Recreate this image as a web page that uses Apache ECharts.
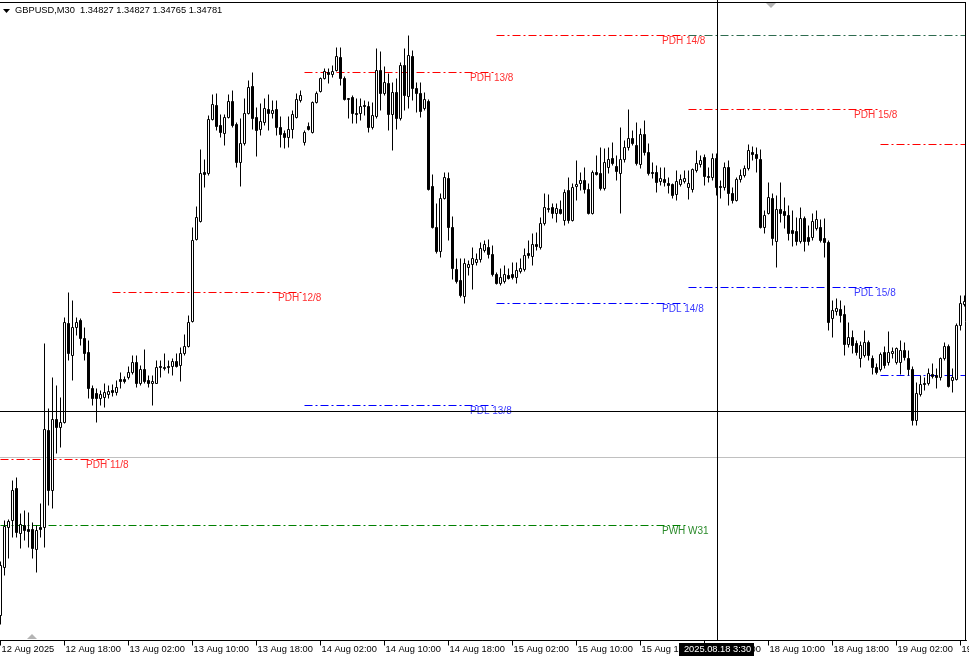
<!DOCTYPE html>
<html><head><meta charset="utf-8">
<script src="https://cdn.jsdelivr.net/npm/echarts/dist/echarts.min.js"></script>
<style>html,body{margin:0;padding:0;background:#fff;overflow:hidden}#c{width:969px;height:660px}</style>
</head><body><div id="c"></div>
<script>
// ---- DATA: GBPUSD M30, 12 Aug 2025 10:00 -> 19 Aug 2025 10:30 ----
const open = [
1.33425,1.33665,1.33865,1.33900,1.34060,1.33835,1.33875,1.33855,1.33855,1.33755,
1.33865,1.33865,1.34350,1.34050,1.34405,1.34365,1.34390,1.34885,1.34725,1.34865,
1.34900,1.34810,1.34740,1.34560,1.34535,1.34510,1.34515,1.34530,1.34550,1.34540,
1.34605,1.34605,1.34615,1.34640,1.34690,1.34585,1.34655,1.34600,1.34585,1.34585,
1.34670,1.34665,1.34670,1.34670,1.34695,1.34675,1.34735,1.34770,1.34895,1.35305,
1.35395,1.35640,1.35635,1.35905,1.35975,1.35875,1.35835,1.35915,1.35995,1.35880,
1.35690,1.35785,1.35935,1.36070,1.35915,1.35855,1.35890,1.35955,1.35935,1.35955,
1.35865,1.35835,1.35815,1.35855,1.35915,1.36000,1.35790,1.35870,1.35840,1.35990,
1.36045,1.36110,1.36140,1.36130,1.36150,1.36215,1.36110,1.36005,1.36015,1.35935,
1.35935,1.35975,1.35970,1.35865,1.35920,1.36150,1.36035,1.36085,1.35930,1.36040,
1.35910,1.36175,1.36020,1.36220,1.36060,1.36035,1.35960,1.35995,1.35570,1.35365,
1.35245,1.35510,1.35610,1.35365,1.35155,1.35100,1.35020,1.35165,1.35180,1.35190,
1.35205,1.35250,1.35265,1.35230,1.35130,1.35085,1.35095,1.35125,1.35130,1.35115,
1.35145,1.35155,1.35235,1.35220,1.35280,1.35265,1.35385,1.35455,1.35465,1.35435,
1.35455,1.35400,1.35550,1.35400,1.35570,1.35585,1.35600,1.35555,1.35435,1.35640,
1.35635,1.35560,1.35665,1.35710,1.35670,1.35635,1.35705,1.35765,1.35810,1.35775,
1.35680,1.35830,1.35740,1.35640,1.35640,1.35595,1.35605,1.35585,1.35580,1.35530,
1.35580,1.35595,1.35565,1.35555,1.35650,1.35680,1.35715,1.35620,1.35615,1.35710,
1.35570,1.35565,1.35665,1.35535,1.35500,1.35605,1.35625,1.35660,1.35740,1.35730,
1.35705,1.35365,1.35435,1.35510,1.35295,1.35455,1.35445,1.35425,1.35350,1.35345,
1.35295,1.35410,1.35315,1.35315,1.35360,1.35365,1.35310,1.35290,1.34910,1.34945,
1.34955,1.34930,1.34780,1.34815,1.34785,1.34710,1.34725,1.34790,1.34710,1.34665,
1.34655,1.34740,1.34690,1.34735,1.34690,1.34690,1.34750,1.34710,1.34655,1.34400,
1.34530,1.34585,1.34585,1.34630,1.34625,1.34615,1.34710,1.34770,1.34600,1.34605,
1.34875,1.34980];
const high = [
1.33695,1.33900,1.33905,1.34100,1.34115,1.33935,1.33950,1.33940,1.33890,1.33875,
1.33985,1.34785,1.34460,1.34615,1.34575,1.34515,1.34915,1.35040,1.35000,1.34915,
1.34910,1.34865,1.34800,1.34575,1.34560,1.34550,1.34585,1.34575,1.34580,1.34600,
1.34640,1.34620,1.34670,1.34725,1.34725,1.34675,1.34755,1.34625,1.34625,1.34700,
1.34700,1.34735,1.34700,1.34710,1.34735,1.34765,1.34830,1.34925,1.35365,1.35470,
1.35755,1.35705,1.35925,1.36030,1.36035,1.35930,1.35930,1.36030,1.36050,1.35890,
1.35910,1.36010,1.36100,1.36140,1.35965,1.35985,1.36010,1.36030,1.36000,1.36000,
1.35920,1.35850,1.35920,1.35950,1.36035,1.36050,1.35850,1.35890,1.35995,1.36045,
1.36115,1.36160,1.36160,1.36175,1.36265,1.36265,1.36120,1.36010,1.36025,1.36010,
1.36010,1.36000,1.35995,1.35990,1.36260,1.36245,1.36170,1.36135,1.36090,1.36110,
1.36190,1.36260,1.36325,1.36250,1.36090,1.36090,1.36040,1.36005,1.35630,1.35485,
1.35535,1.35640,1.35640,1.35420,1.35210,1.35210,1.35210,1.35200,1.35265,1.35235,
1.35290,1.35300,1.35305,1.35275,1.35140,1.35160,1.35175,1.35160,1.35190,1.35190,
1.35210,1.35260,1.35300,1.35335,1.35340,1.35415,1.35535,1.35530,1.35485,1.35485,
1.35500,1.35555,1.35615,1.35585,1.35700,1.35640,1.35665,1.35585,1.35650,1.35725,
1.35765,1.35760,1.35765,1.35790,1.35725,1.35865,1.35800,1.35955,1.35850,1.35890,
1.35860,1.35900,1.35785,1.35690,1.35675,1.35665,1.35665,1.35615,1.35585,1.35650,
1.35630,1.35650,1.35650,1.35660,1.35750,1.35725,1.35730,1.35665,1.35735,1.35735,
1.35600,1.35690,1.35700,1.35565,1.35615,1.35655,1.35675,1.35780,1.35770,1.35765,
1.35755,1.35450,1.35590,1.35535,1.35525,1.35590,1.35515,1.35475,1.35450,1.35415,
1.35465,1.35420,1.35375,1.35435,1.35450,1.35405,1.35410,1.35300,1.35000,1.35010,
1.35000,1.34975,1.34890,1.34850,1.34800,1.34795,1.34850,1.34800,1.34725,1.34685,
1.34740,1.34770,1.34845,1.34765,1.34765,1.34800,1.34790,1.34750,1.34670,1.34590,
1.34625,1.34615,1.34660,1.34685,1.34660,1.34715,1.34790,1.34780,1.34660,1.34885,
1.35025,1.35025];
const low = [
1.33380,1.33625,1.33710,1.33815,1.33815,1.33760,1.33800,1.33765,1.33710,1.33640,
1.33815,1.33765,1.33975,1.33960,1.34235,1.34265,1.34385,1.34700,1.34600,1.34825,
1.34775,1.34700,1.34510,1.34475,1.34390,1.34475,1.34465,1.34510,1.34520,1.34525,
1.34560,1.34585,1.34605,1.34630,1.34565,1.34575,1.34585,1.34565,1.34475,1.34585,
1.34615,1.34650,1.34635,1.34625,1.34665,1.34595,1.34725,1.34765,1.34890,1.35300,
1.35390,1.35565,1.35625,1.35900,1.35850,1.35815,1.35775,1.35910,1.35865,1.35665,
1.35570,1.35775,1.35930,1.35855,1.35720,1.35825,1.35875,1.35850,1.35910,1.35825,
1.35765,1.35760,1.35765,1.35810,1.35910,1.35990,1.35775,1.35850,1.35835,1.35985,
1.36040,1.36105,1.36085,1.36115,1.36145,1.36075,1.36000,1.35910,1.35885,1.35885,
1.35900,1.35925,1.35840,1.35855,1.35910,1.35950,1.36025,1.35850,1.35750,1.35855,
1.35900,1.35950,1.35960,1.36000,1.35940,1.35915,1.35950,1.35550,1.35360,1.35235,
1.35215,1.35505,1.35300,1.35105,1.35085,1.35015,1.34985,1.35125,1.35055,1.35175,
1.35190,1.35240,1.35210,1.35120,1.35080,1.35075,1.35085,1.35105,1.35105,1.35085,
1.35135,1.35145,1.35210,1.35175,1.35250,1.35255,1.35375,1.35440,1.35410,1.35390,
1.35430,1.35375,1.35385,1.35395,1.35500,1.35550,1.35535,1.35430,1.35430,1.35625,
1.35550,1.35550,1.35635,1.35675,1.35600,1.35435,1.35690,1.35750,1.35775,1.35675,
1.35660,1.35725,1.35625,1.35610,1.35540,1.35575,1.35570,1.35535,1.35510,1.35500,
1.35570,1.35585,1.35505,1.35540,1.35640,1.35665,1.35575,1.35590,1.35600,1.35525,
1.35510,1.35550,1.35475,1.35485,1.35495,1.35590,1.35615,1.35650,1.35700,1.35640,
1.35360,1.35335,1.35430,1.35275,1.35165,1.35390,1.35360,1.35300,1.35270,1.35275,
1.35285,1.35245,1.35275,1.35300,1.35350,1.35290,1.35215,1.34850,1.34815,1.34925,
1.34890,1.34725,1.34765,1.34735,1.34725,1.34665,1.34715,1.34700,1.34630,1.34630,
1.34645,1.34660,1.34675,1.34710,1.34680,1.34630,1.34700,1.34625,1.34375,1.34375,
1.34520,1.34550,1.34575,1.34610,1.34560,1.34600,1.34700,1.34565,1.34540,1.34600,
1.34850,1.34970];
const close = [
1.33675,1.33870,1.33895,1.34050,1.33840,1.33880,1.33850,1.33845,1.33760,1.33850,
1.33855,1.34355,1.34050,1.34405,1.34365,1.34390,1.34890,1.34735,1.34865,1.34890,
1.34810,1.34735,1.34560,1.34510,1.34510,1.34530,1.34540,1.34545,1.34540,1.34565,
1.34595,1.34595,1.34640,1.34690,1.34585,1.34655,1.34595,1.34585,1.34595,1.34665,
1.34665,1.34660,1.34665,1.34695,1.34670,1.34735,1.34770,1.34890,1.35300,1.35415,
1.35635,1.35630,1.35905,1.35980,1.35870,1.35840,1.35915,1.35995,1.35875,1.35690,
1.35785,1.35935,1.36065,1.35910,1.35850,1.35895,1.35960,1.35935,1.35950,1.35865,
1.35830,1.35815,1.35855,1.35930,1.36005,1.36025,1.35840,1.35855,1.35990,1.36035,
1.36110,1.36145,1.36130,1.36145,1.36220,1.36110,1.36005,1.36010,1.35935,1.35930,
1.35970,1.35970,1.35865,1.35925,1.36150,1.36035,1.36090,1.35930,1.36040,1.35910,
1.36175,1.36025,1.36225,1.36060,1.36035,1.35945,1.36005,1.35555,1.35365,1.35245,
1.35510,1.35615,1.35365,1.35160,1.35095,1.35025,1.35185,1.35180,1.35210,1.35205,
1.35260,1.35280,1.35230,1.35130,1.35085,1.35115,1.35130,1.35110,1.35115,1.35150,
1.35160,1.35225,1.35225,1.35280,1.35270,1.35385,1.35465,1.35460,1.35435,1.35460,
1.35435,1.35540,1.35400,1.35565,1.35580,1.35600,1.35555,1.35435,1.35640,1.35630,
1.35560,1.35690,1.35705,1.35685,1.35645,1.35705,1.35765,1.35810,1.35785,1.35685,
1.35830,1.35740,1.35635,1.35635,1.35590,1.35610,1.35590,1.35575,1.35525,1.35595,
1.35605,1.35610,1.35585,1.35655,1.35685,1.35700,1.35620,1.35615,1.35710,1.35565,
1.35565,1.35665,1.35535,1.35500,1.35605,1.35625,1.35660,1.35750,1.35730,1.35710,
1.35365,1.35425,1.35515,1.35310,1.35455,1.35435,1.35425,1.35335,1.35335,1.35295,
1.35410,1.35295,1.35295,1.35395,1.35405,1.35300,1.35290,1.34890,1.34950,1.34960,
1.34925,1.34780,1.34815,1.34775,1.34740,1.34775,1.34790,1.34725,1.34665,1.34640,
1.34730,1.34675,1.34740,1.34745,1.34760,1.34750,1.34715,1.34655,1.34400,1.34535,
1.34580,1.34580,1.34635,1.34620,1.34615,1.34710,1.34770,1.34570,1.34615,1.34875,
1.34985,1.34995];

// time-axis tick labels (every 16 bars = 8 hours)
const tickIndex  = [0,16,32,48,64,80,96,112,128,144,160,176,192,208,224,240];
const tickLabels = ['12 Aug 2025','12 Aug 18:00','13 Aug 02:00','13 Aug 10:00','13 Aug 18:00',
  '14 Aug 02:00','14 Aug 10:00','14 Aug 18:00','15 Aug 02:00','15 Aug 10:00','15 Aug 18:00',
  '18 Aug 02:00','18 Aug 10:00','18 Aug 18:00','19 Aug 02:00','19 Aug 10:00'];

// daily / weekly levels (bar index range in which they are drawn)
const levelNames  = ['PDH 11/8','PWH W31','PDH 12/8','PDH 13/8','PDL 13/8','PDH 14/8','PDL 14/8','PDH 15/8','PDL 15/8','PDH 18/8','PDL 18/8','PWH W32'];
const levelPrices = [1.34205,1.33875,1.35040,1.36140,1.34475,1.36325,1.34985,1.35955,1.35065,1.35780,1.34625,1.36325];
const levelFrom   = [0,0,28,76,76,124,124,172,172,220,220,172];
const levelTo     = [28,172,76,124,124,172,172,220,220,268,268,412];

const titleText = 'GBPUSD,M30  1.34827 1.34827 1.34765 1.34781';
const crossIndex = 179;           // 2025.08.18 3:30
const crossPrice = 1.34445;
const crossText = '2025.08.18 3:30';
const greyLinePrice = 1.34215;

// ---- bar times (M30, weekend skipped) ----
function barTimes(n){
  const out=[]; let t=Date.UTC(2025,7,12,10,0);
  const p=v=>String(v).padStart(2,'0');
  while(out.length<n){
    const d=new Date(t); const wd=d.getUTCDay();
    if(wd!==0 && wd!==6){
      out.push(d.getUTCFullYear()+'.'+p(d.getUTCMonth()+1)+'.'+p(d.getUTCDate())+' '+d.getUTCHours()+':'+p(d.getUTCMinutes()));
    }
    t+=30*60000;
  }
  return out;
}
const cats = barTimes(open.length);
const candleData = open.map((o,i)=>[o, close[i], low[i], high[i]]);

const FONT = '"Liberation Sans", Arial, sans-serif';
const chart = echarts.init(document.getElementById('c'), null, {renderer:'canvas'});
const isTick = i => tickIndex.indexOf(i) >= 0;
chart.setOption({
  animation:false,
  backgroundColor:'#ffffff',
  grid:{left:-1.5,right:2.5,top:2.5,bottom:19.5,show:false,containLabel:false,outerBoundsMode:'none'},
  xAxis:{type:'category',data:cats,boundaryGap:true,
    axisLine:{show:true,lineStyle:{color:'#000',width:1}},
    axisTick:{show:true,alignWithLabel:true,interval:(i)=>isTick(i),length:5,lineStyle:{color:'#000'}},
    axisLabel:{interval:(i)=>isTick(i),formatter:(v,i)=>tickLabels[tickIndex.indexOf(i)]||'',
      align:'left',margin:4,fontSize:9.3,fontFamily:FONT,color:'#000',padding:[0,0,0,1],hideOverlap:false},
    splitLine:{show:false}},
  yAxis:{type:'value',min:1.3330,max:1.3649,show:false,splitLine:{show:false}},
  series:[{type:'candlestick',data:candleData,barWidth:2,barMaxWidth:2,z:3,
    itemStyle:{color:'#ffffff',color0:'#000000',borderColor:'#000000',borderColor0:'#000000',borderWidth:1}}]
});

const px = (i,p)=>chart.convertToPixel({xAxisIndex:0,yAxisIndex:0},[i,p]);
const GL=0, GR=966, GT=2, GB=640;
const g=[];
function hline(y,x1,x2,stroke,dash,z){
  g.push({type:'line',silent:true,z:z,shape:{x1:x1,y1:y,x2:x2,y2:y},style:{stroke:stroke,lineWidth:1,lineDash:dash||null}});
}
// chart frame (top + right)
hline(2.5,0,966,'#000',null,12);
g.push({type:'line',silent:true,z:12,shape:{x1:965.5,y1:2,x2:965.5,y2:641},style:{stroke:'#000',lineWidth:1}});
// grey line
hline(Math.floor(px(0,greyLinePrice)[1])+0.5,GL,GR,'#c0c0c0',null,1);
// levels
levelNames.forEach((nm,k)=>{
  const a=px(levelFrom[k],levelPrices[k]), b=px(levelTo[k],levelPrices[k]);
  const y=Math.floor(a[1])+0.5;
  let col='#ff0000', tcol='#ff3030';
  if(nm.indexOf('PDL')===0){col='#0000ff';tcol='#3a3aff';}
  if(nm.indexOf('PW')===0){col='#2e6b4f';tcol='#2a8a2a';}
  if(nm==='PWH W31'){col='#008000';}
  hline(y,Math.max(GL,a[0]),Math.min(GR,b[0]),col,[8,3,2,3],1);
  g.push({type:'text',silent:true,z:1,x:Math.floor(b[0])-26,y:y+0.5,style:{text:nm,fill:tcol,font:'10px '+FONT,textVerticalAlign:'top',textAlign:'left'}});
});
// crosshair
const cp=px(crossIndex,crossPrice);
const cx=Math.floor(cp[0])+1.5, cy=Math.floor(cp[1])+0.5;
hline(cy,GL,GR,'#000',null,10);
g.push({type:'line',silent:true,z:10,shape:{x1:cx,y1:0,x2:cx,y2:GB},style:{stroke:'#000',lineWidth:1}});
g.push({type:'rect',silent:true,z:11,shape:{x:cx-38.5,y:643,width:75,height:13},style:{fill:'#000'}});
g.push({type:'text',silent:true,z:12,x:cx,y:649.5,style:{text:crossText,fill:'#fff',font:'9.3px '+FONT,textAlign:'center',textVerticalAlign:'middle'}});
// title
g.push({type:'polygon',silent:true,z:12,shape:{points:[[3,9],[10,9],[6.5,13]]},style:{fill:'#000'}});
g.push({type:'text',silent:true,z:12,x:15,y:10.5,style:{text:titleText,fill:'#000',font:'9.3px '+FONT,textVerticalAlign:'middle'}});
// shift markers
g.push({type:'polygon',silent:true,z:12,shape:{points:[[766,3],[776,3],[771,8]]},style:{fill:'#b4b4b4'}});
g.push({type:'polygon',silent:true,z:12,shape:{points:[[27,639],[37,639],[32,634]]},style:{fill:'#b4b4b4'}});
chart.setOption({graphic:{elements:g}});
</script></body></html>
